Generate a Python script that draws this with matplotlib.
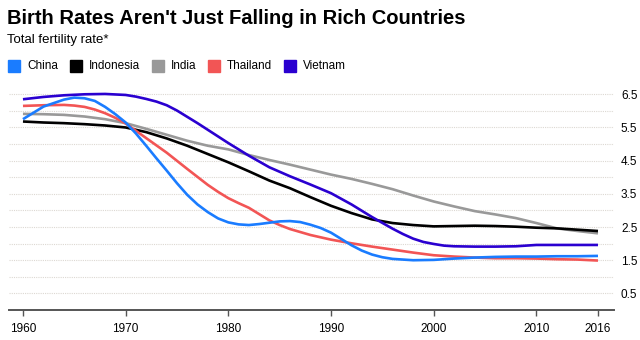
import numpy as np
import matplotlib
matplotlib.use('Agg')
import matplotlib.pyplot as plt
from matplotlib.patches import Rectangle

# values (total fertility rate)
years = [1960, 1962, 1964, 1966, 1968, 1970, 1972, 1974, 1976, 1978,
         1980, 1982, 1984, 1986, 1988, 1990, 1992, 1994, 1996, 1998,
         2000, 2002, 2004, 2006, 2008, 2010, 2012, 2014, 2016]
indonesia = [5.68, 5.65, 5.63, 5.60, 5.56, 5.50, 5.36, 5.17, 4.95, 4.70,
             4.45, 4.18, 3.90, 3.67, 3.40, 3.14, 2.92, 2.73, 2.62, 2.56,
             2.52, 2.53, 2.54, 2.53, 2.51, 2.48, 2.46, 2.42, 2.38]
india = [5.91, 5.90, 5.88, 5.83, 5.75, 5.63, 5.46, 5.28, 5.10, 4.95,
         4.84, 4.67, 4.52, 4.38, 4.23, 4.08, 3.95, 3.80, 3.64, 3.45,
         3.27, 3.12, 2.98, 2.88, 2.77, 2.62, 2.46, 2.38, 2.31]

china_years = [1960, 1962, 1964, 1965, 1966, 1967, 1968, 1969, 1970, 1971,
               1972, 1973, 1974, 1975, 1976, 1977, 1978, 1979, 1980, 1981,
               1982, 1983, 1984, 1985, 1986, 1987, 1988, 1989, 1990, 1991,
               1992, 1993, 1994, 1995, 1996, 1998, 2000, 2002, 2004, 2006,
               2008, 2010, 2012, 2014, 2016]
china = [5.75, 6.13, 6.34, 6.40, 6.38, 6.30, 6.12, 5.90, 5.65, 5.32,
         4.95, 4.57, 4.20, 3.82, 3.47, 3.18, 2.95, 2.76, 2.64, 2.58,
         2.56, 2.59, 2.63, 2.67, 2.68, 2.65, 2.57, 2.47, 2.33, 2.14,
         1.95, 1.79, 1.67, 1.59, 1.54, 1.50, 1.51, 1.55, 1.58, 1.60,
         1.61, 1.61, 1.62, 1.62, 1.63]

thailand_years = [1960, 1962, 1964, 1965, 1966, 1967, 1968, 1969, 1970, 1972,
                  1974, 1976, 1978, 1979, 1980, 1981, 1982, 1983, 1984, 1985,
                  1986, 1988, 1990, 1992, 1994, 1996, 1998, 2000, 2002, 2004,
                  2006, 2008, 2010, 2012, 2014, 2016]
thailand = [6.15, 6.17, 6.18, 6.16, 6.12, 6.04, 5.93, 5.79, 5.62, 5.18,
            4.74, 4.25, 3.77, 3.56, 3.37, 3.22, 3.08, 2.89, 2.70, 2.56,
            2.44, 2.26, 2.12, 2.01, 1.91, 1.82, 1.73, 1.65, 1.61, 1.58,
            1.56, 1.56, 1.55, 1.53, 1.52, 1.49]

vietnam_years = [1960, 1962, 1964, 1966, 1968, 1970, 1971, 1972, 1973, 1974,
                 1975, 1976, 1977, 1978, 1980, 1982, 1984, 1986, 1988, 1990,
                 1992, 1994, 1996, 1997, 1998, 1999, 2000, 2001, 2002, 2004,
                 2006, 2008, 2009, 2010, 2012, 2014, 2016]
vietnam = [6.35, 6.42, 6.47, 6.50, 6.51, 6.48, 6.43, 6.36, 6.28, 6.17,
           6.01, 5.82, 5.63, 5.43, 5.03, 4.65, 4.30, 4.03, 3.78, 3.52,
           3.18, 2.80, 2.45, 2.29, 2.15, 2.05, 1.99, 1.94, 1.92, 1.91,
           1.91, 1.92, 1.94, 1.96, 1.96, 1.96, 1.96]

names = ['China', 'Indonesia', 'India', 'Thailand', 'Vietnam']
colors = ['#1a7cff', '#000000', '#999999', '#f25555', '#2a00d0']
xticks = [1960, 1970, 1980, 1990, 2000, 2010, 2016]
yticks = [0.5, 1.5, 2.5, 3.5, 4.5, 5.5, 6.5]

plt.rcParams['font.family'] = ['Liberation Sans', 'DejaVu Sans']

fig = plt.figure(figsize=(6.4, 3.4), dpi=100)
ax = fig.add_axes([9/640, 1-310/340, 605/640, 225/340])

# draw order: india, indonesia, vietnam, thailand, china
series = {'China': (china_years, china), 'Indonesia': (years, indonesia),
          'India': (years, india), 'Thailand': (thailand_years, thailand),
          'Vietnam': (vietnam_years, vietnam)}
cmap = dict(zip(names, colors))
for n in ['India', 'Indonesia', 'Vietnam', 'Thailand', 'China']:
    xs, ys = series[n]
    ax.plot(xs, ys, color=cmap[n], lw=1.9, solid_capstyle='butt', solid_joinstyle='round', zorder=3)

for g in np.arange(0.5, 7.0, 0.5):
    ax.axhline(g, xmin=0, xmax=1, color='#dcd8d2', lw=0.8, ls=(0, (1, 1)), zorder=1)

ax.set_xlim(1958.64, 2017.56)
ax.set_ylim(0, 6.78)
ax.set_xticks(xticks)
ax.set_xticklabels([str(t) for t in xticks], fontsize=8.5)
ax.set_yticks(yticks)
ax.set_yticklabels(['%.1f' % t for t in yticks], fontsize=8.5)
ax.yaxis.tick_right()
ax.tick_params(axis='y', length=0, pad=5)
ax.tick_params(axis='x', length=4, width=1, color='#555555', pad=5)
for s in ['top', 'right', 'left']:
    ax.spines[s].set_visible(False)
ax.spines['bottom'].set_color('#555555')
ax.spines['bottom'].set_linewidth(1.4)

fig.text(7/640, 1-18/340, "Birth Rates Aren't Just Falling in Rich Countries",
         fontsize=14.5, fontweight='bold', va='center', ha='left')
fig.text(7/640, 1-40/340, 'Total fertility rate*', fontsize=9.5, va='center', ha='left')

# legend row
lx = [8, 70, 152, 208, 284]
for n, x0 in zip(names, lx):
    fig.patches.append(Rectangle((x0/640, 1-72/340), 12/640, 12/340,
                                 transform=fig.transFigure, color=cmap[n]))
    fig.text((x0+19)/640, 1-66/340, n, fontsize=8.5, va='center', ha='left')

fig.savefig('out.png', dpi=100)
